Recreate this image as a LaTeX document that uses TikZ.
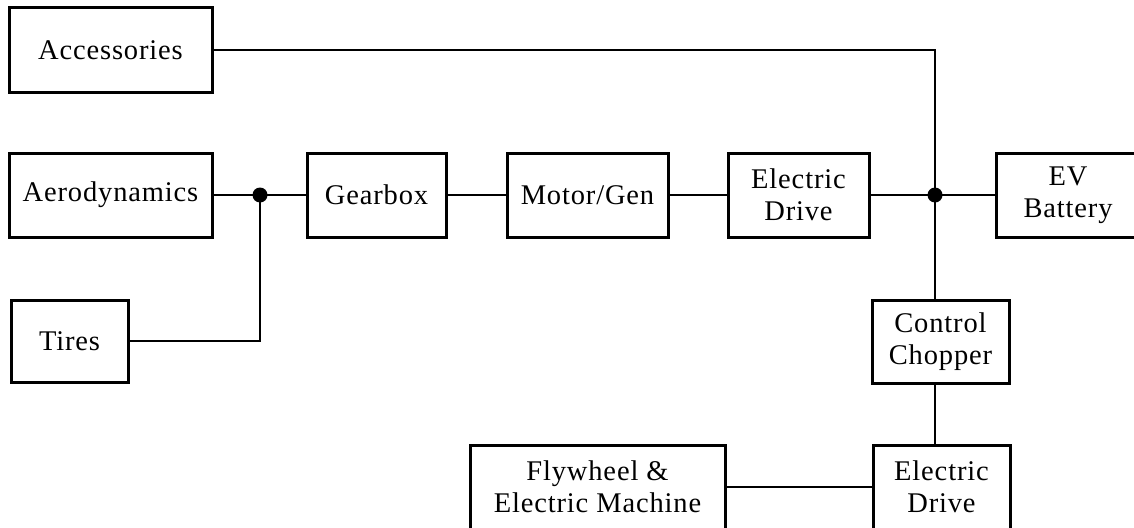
\documentclass[tikz,border=0pt]{standalone}
\usepackage{fontspec}
\setmainfont{Liberation Serif}[LetterSpace=3]
\begin{document}
\begin{tikzpicture}[x=1pt,y=-1pt,
  blk/.style={draw,line width=3pt,minimum height=84pt,inner sep=0pt,align=center,font=\fontsize{28.5}{32}\selectfont},
  wire/.style={line width=2.8pt},
  dotstyle/.style={fill=black}]
\useasboundingbox (0,0) rectangle (1134,527);
\clip (0,0) rectangle (1134,527);
\node[blk,minimum width=203pt] (acc) at (110.5,50) {Accessories};
\node[blk,minimum width=203pt] (aero) at (110.5,195) {Aerodynamics};
\node[blk,minimum width=117pt,minimum height=82pt] (tires) at (69.5,341) {Tires};
\node[blk,minimum width=139pt] (gear) at (376.5,195) {Gearbox};
\node[blk,minimum width=161pt] (motor) at (587.5,195) {Motor/Gen};
\node[blk,minimum width=141pt] (ed1) at (798.5,195) {Electric\\Drive};
\node[blk,minimum width=144pt] (bat) at (1068,195) {EV\\Battery};
\node[blk,minimum width=137pt,minimum height=83pt] (chop) at (940.5,341.5) {Control\\Chopper};
\node[blk,minimum width=137pt] (ed2) at (941.5,487) {Electric\\Drive};
\node[blk,minimum width=255pt] (fly) at (597.5,487) {Flywheel \&\\Electric Machine};
\coordinate (j1) at (260,195);
\coordinate (j2) at (935,195);
\draw[wire] (acc.east) -| (j2);
\draw[wire] (aero.east) -- (j1) -- (gear.west);
\draw[wire] (tires.east) -| (j1);
\draw[wire] (gear.east) -- (motor.west);
\draw[wire] (motor.east) -- (ed1.west);
\draw[wire] (ed1.east) -- (j2) -- (bat.west);
\draw[wire] (j2) -- (j2 |- chop.north);
\draw[wire] (chop.south -| j2) -- (ed2.north -| j2);
\draw[wire] (fly.east) -- (ed2.west);
\fill[dotstyle] (j1) circle (7.5);
\fill[dotstyle] (j2) circle (7.5);
\end{tikzpicture}
\end{document}
